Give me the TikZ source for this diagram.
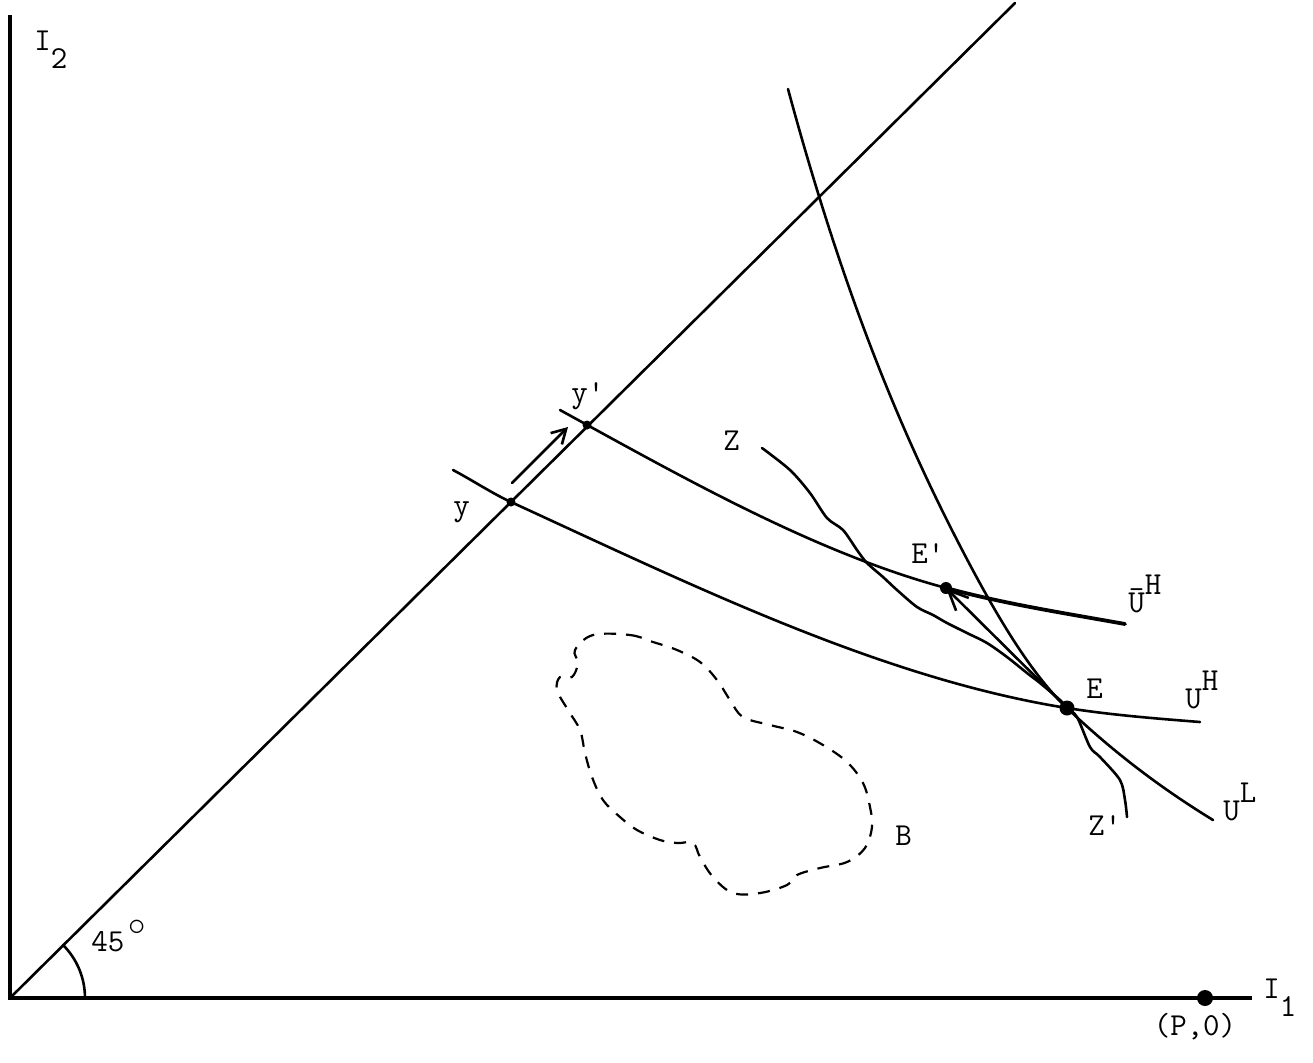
\documentclass[tikz,border=0pt]{standalone}
\usepackage{fontspec}
\usetikzlibrary{arrows.meta}
\newcommand{\lblfont}{\fontsize{16}{19}\selectfont\ttfamily}
\newcommand{\supH}[1]{\raisebox{9pt}{#1}}
\newcommand{\subL}[1]{\raisebox{-9pt}{#1}}
\begin{document}
\begin{tikzpicture}[x=0.5pt,y=-0.5pt,
  curve/.style={line width=1.3pt, line cap=round, line join=round},
  axis/.style={line width=2pt},
  lbl/.style={anchor=base west, inner sep=0pt, font=\lblfont},
  ptdot/.style={circle, fill=black, draw=none, inner sep=0pt, minimum size=#1},
  barbY/.style={curve, -{Straight Barb[length=7pt,width=8pt,line width=1.3pt]}},
  barbE/.style={curve, -{Straight Barb[length=10pt,width=9pt,line width=1.3pt]}},
  blobline/.style={line width=1.1pt, dash pattern=on 6pt off 5pt}]
\useasboundingbox (0,0) rectangle (1313,1062);
% key points
\coordinate (O) at (10,998);
\coordinate (Ytop) at (10,15);
\coordinate (Xend) at (1252,998);
\coordinate (Dend) at (1015,3);
\coordinate (Y) at (511,502);
\coordinate (Yp) at (587,425);
\coordinate (E) at (1067,708);
\coordinate (Ep) at (946,588);
\coordinate (A1) at (512,483);
\coordinate (A2) at (568,427);
% axes
\draw[axis] (Ytop) -- (O) -- (Xend);
% 45 degree line
\draw[curve] (O) -- (Dend);
\draw[curve] (85,998) arc[start angle=0, end angle=-45, radius=75];
% U^H
\draw[curve] (453,470) .. controls (472,480) and (492,493.3) .. (Y)
  .. controls (696,587) and (882,678.4) .. (E)
  .. controls (1111,715) and (1156,718.5) .. (1200,722);
% bar U^H
\draw[curve] (560,410) .. controls (689,481) and (817,553.2) .. (Ep);
\draw[curve, line width=1.9pt] (Ep) .. controls (1006,604.2) and (1065,613.2) .. (1125,624);
% U^L
\draw[curve] (788,89) .. controls (844,296) and (901,431) .. (957,540)
  .. controls (994,612) and (1030,673) .. (E)
  .. controls (1116,754.6) and (1164,790) .. (1213,820);
% Z curve
\draw[curve] plot[smooth, tension=0.5] coordinates {(762,448) (790,470) (810,493) (827,518) (843,530) (857,550) (867,563) (883,577) (897,590) (917,607) (933,615) (947,623) (967,633) (987,643) (1007,657) (1027,673) (1040,683) (1060,700) (E) (1077,717) (1090,747) (1100,757) (1120,780) (1125,800) (1127,817)};
% arrows
\draw[barbY] (A1) -- (A2);
\draw[barbE] (E) -- (Ep);
% B region
\draw[blobline] plot[smooth cycle, tension=0.6] coordinates {(593,635) (630,635) (653,642) (677,650) (700,662) (717,680) (730,700) (743,717) (770,725) (797,732) (823,745) (847,762) (863,783) (870,807) (872,827) (865,848) (847,862) (820,868) (797,875) (787,885) (760,893) (733,893) (713,877) (700,857) (693,843) (677,843) (660,840) (637,830) (620,817) (603,800) (592,777) (585,753) (580,730) (568,710) (557,690) (560,677) (572,677) (578,663) (575,650)};
% dots
\node[ptdot=8pt] (Pdot) at (1205,998) {};
\node[ptdot=4.5pt] (Ydot) at (Y) {};
\node[ptdot=4.5pt] (Ypdot) at (Yp) {};
\node[ptdot=7.5pt] (Edot) at (E) {};
\node[ptdot=6pt] (Epdot) at (Ep) {};
% labels
\node[lbl] (lI2) at (34,50) {I\subL{2}};
\node[lbl] (lI1) at (1263,998) {I\subL{1}};
\node[lbl, anchor=base] (lP) at (1195,1035) {(P,0)};
\node[lbl] (l45) at (91,951) {45\kern2pt\raisebox{8pt}{$\circ$}};
\node[lbl] (ly) at (453,515) {y};
\node[lbl] (lyp) at (571,402) {y'};
\node[lbl] (lZ) at (723,450) {Z};
\node[lbl] (lEp) at (911,563) {E'};
\node[lbl] (lUbH) at (1128,612) {\=U\supH{H}};
\node[lbl] (lE) at (1086,698) {E};
\node[lbl] (lUH) at (1185,708) {U\supH{H}};
\node[lbl] (lUL) at (1223,820) {U\supH{L}};
\node[lbl] (lZp) at (1088,835) {Z'};
\node[lbl] (lB) at (895,845) {B};
\end{tikzpicture}
\end{document}
